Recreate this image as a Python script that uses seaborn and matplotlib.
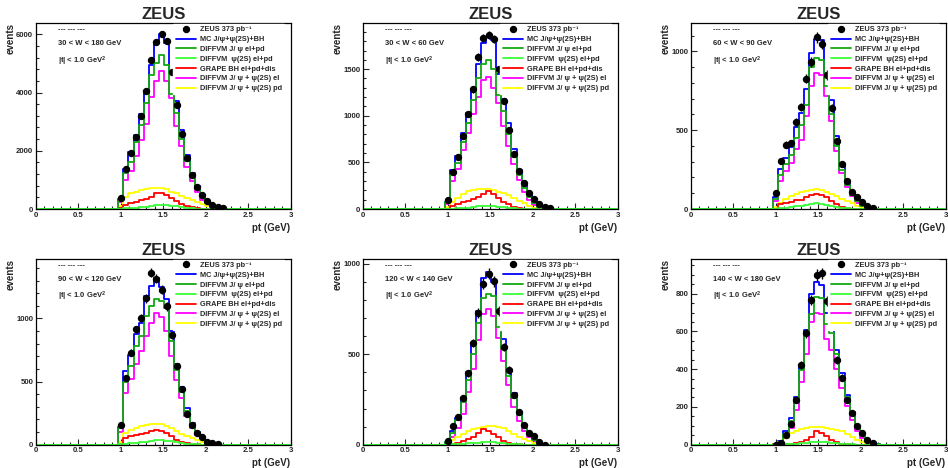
import numpy as np
import pandas as pd
import matplotlib
matplotlib.use("Agg")
import matplotlib.pyplot as plt
import seaborn as sns
from matplotlib.ticker import MultipleLocator, FuncFormatter
from matplotlib.lines import Line2D

sns.set_style("ticks")
plt.rcParams['font.family'] = ['Liberation Sans', 'DejaVu Sans']
plt.rcParams['font.weight'] = 'bold'
plt.rcParams['mathtext.fontset'] = 'custom'
plt.rcParams['mathtext.rm'] = 'Liberation Sans:bold'
plt.rcParams['mathtext.it'] = 'Liberation Sans:bold'
plt.rcParams['mathtext.bf'] = 'Liberation Sans:bold'

# ---------------- data ----------------
pt_centers = [1.00, 1.06, 1.12, 1.18, 1.24, 1.30, 1.36, 1.42, 1.48, 1.54, 1.60,
              1.66, 1.72, 1.78, 1.84, 1.90, 1.96, 2.02, 2.08, 2.14, 2.20]
bin_width = 0.06

w_labels = ["30 < W < 180 GeV", "30 < W < 60 GeV", "60 < W < 90 GeV",
            "90 < W < 120 GeV", "120 < W < 140 GeV", "140 < W < 180 GeV"]
y_max = [6390, 1995, 1180, 1473, 1028, 985]
y_major = [2000, 500, 500, 500, 500, 200]
y_minor = [400, 100, 100, 100, 100, 50]

legend_labels = ["ZEUS 373 pb\u207b\u00b9", "MC J/\u03c8+\u03c8(2S)+BH", "DIFFVM J/ \u03c8 el+pd",
                 "DIFFVM  \u03c8(2S) el+pd", "GRAPE BH el+pd+dis",
                 "DIFFVM J/ \u03c8 + \u03c8(2S) el", "DIFFVM J/ \u03c8 + \u03c8(2S) pd"]

nan = float("nan")

# 30 < W < 180
data_w30_180 = [390, 1360, 1910, 2480, 3210, 4060, 5130, 5740, 6010, 5760, 4700, 3590, 2590, 1740, 1170, 770, 490, 270, 150, 55, 45]
mc_w30_180 = [350, 1390, 1960, 2540, 3250, 4020, 4940, 5700, 6020, 5700, 4700, 3700, 2700, 1870, 1230, 780, 460, 240, 110, 40, 10]
jpsi_w30_180 = [300, 1250, 1600, 2300, 2880, 3650, 4600, 5000, 5300, 4950, 3950, 3300, 2400, 1650, 1100, 700, 420, 220, 100, 35, 10]
psi2s_w30_180 = [5, 20, 35, 50, 65, 85, 105, 125, 130, 125, 110, 90, 65, 45, 30, 15, 8, 3, 0, 0, 0]
bh_w30_180 = [30, 150, 200, 250, 300, 350, 420, 540, 550, 480, 380, 280, 180, 110, 60, 30, 15, 5, 0, 0, 0]
el_w30_180 = [230, 990, 1300, 1830, 2380, 2920, 3850, 4400, 4750, 4400, 3800, 2850, 2150, 1450, 950, 580, 320, 150, 60, 20, 5]
pd_w30_180 = [100, 420, 540, 590, 650, 690, 710, 730, 730, 690, 600, 540, 460, 390, 310, 240, 170, 100, 50, 20, 0]

# 30 < W < 60
data_w30_60 = [96, 400, 560, 782, 1014, 1282, 1632, 1836, 1864, 1821, 1500, 1157, 846, 586, 411, 279, 175, 104, 54, 18, 14]
mc_w30_60 = [80, 418, 570, 810, 1030, 1280, 1550, 1780, 1840, 1810, 1450, 1180, 920, 640, 420, 260, 150, 75, 30, 10, 3]
jpsi_w30_60 = [70, 360, 490, 720, 920, 1170, 1400, 1550, 1600, 1500, 1220, 1050, 800, 560, 360, 220, 130, 60, 25, 8, 2]
psi2s_w30_60 = [2, 5, 8, 12, 16, 22, 28, 32, 35, 32, 26, 20, 14, 9, 5, 3, 1, 0, 0, 0, 0]
bh_w30_60 = [5, 30, 50, 70, 90, 110, 130, 160, 190, 160, 120, 80, 50, 25, 12, 5, 2, 0, 0, 0, 0]
el_w30_60 = [50, 300, 430, 630, 810, 1020, 1200, 1380, 1420, 1300, 1140, 890, 680, 480, 310, 180, 100, 45, 18, 5, 0]
pd_w30_60 = [20, 80, 120, 160, 190, 205, 215, 210, 215, 200, 185, 170, 150, 120, 90, 60, 35, 15, 5, 0, 0]

# 60 < W < 90
data_w60_90 = [99, 306, 409, 420, 553, 644, 827, 933, 1089, 1049, 850, 641, 430, 283, 175, 110, 78, 44, 19, 4, nan]
mc_w60_90 = [75, 255, 325, 395, 520, 610, 760, 990, 1080, 1075, 860, 690, 460, 285, 178, 102, 55, 26, 10, 3, 0]
jpsi_w60_90 = [65, 215, 285, 345, 450, 530, 660, 900, 955, 945, 780, 600, 400, 250, 155, 88, 48, 22, 8, 2, 0]
psi2s_w60_90 = [1, 5, 8, 12, 16, 20, 26, 32, 36, 34, 28, 20, 13, 8, 4, 2, 1, 0, 0, 0, 0]
bh_w60_90 = [3, 30, 40, 45, 55, 60, 75, 90, 95, 90, 75, 50, 30, 15, 8, 3, 1, 0, 0, 0, 0]
el_w60_90 = [50, 180, 240, 290, 380, 440, 590, 780, 860, 850, 720, 560, 370, 230, 140, 80, 40, 18, 6, 1, 0]
pd_w60_90 = [10, 40, 65, 80, 95, 105, 115, 120, 125, 120, 110, 95, 80, 65, 50, 35, 22, 12, 5, 1, 0]

# 90 < W < 120
data_w90_120 = [156, 529, 728, 913, 1005, 1159, 1363, 1315, 1228, 1095, 865, 622, 439, 241, 156, 95, 61, 21, 16, 3, nan]
mc_w90_120 = [140, 580, 710, 880, 960, 1180, 1260, 1320, 1250, 1150, 900, 640, 460, 290, 175, 100, 55, 25, 10, 3, 0]
jpsi_w90_120 = [130, 500, 620, 780, 860, 1020, 1100, 1150, 1140, 1080, 820, 590, 420, 265, 160, 92, 50, 22, 9, 2, 0]
psi2s_w90_120 = [2, 8, 12, 16, 20, 25, 30, 34, 35, 32, 26, 20, 13, 8, 4, 2, 1, 0, 0, 0, 0]
bh_w90_120 = [5, 55, 65, 75, 85, 95, 105, 120, 110, 90, 65, 40, 25, 12, 6, 2, 1, 0, 0, 0, 0]
el_w90_120 = [100, 410, 520, 640, 740, 860, 960, 1040, 1010, 900, 700, 510, 370, 230, 135, 75, 40, 16, 6, 1, 0]
pd_w90_120 = [20, 90, 120, 135, 145, 155, 160, 165, 160, 150, 130, 110, 85, 65, 50, 35, 22, 12, 5, 1, 0]

# 120 < W < 140
data_w120_140 = [18, 101, 155, 256, 395, 561, 729, 889, 945, 902, 740, 539, 413, 277, 179, 111, 63, 46, 13, 0, nan]
mc_w120_140 = [15, 75, 150, 260, 400, 550, 740, 920, 955, 900, 740, 585, 420, 285, 180, 110, 60, 30, 12, 3, 0]
jpsi_w120_140 = [13, 65, 135, 235, 360, 500, 670, 810, 835, 820, 650, 530, 380, 260, 165, 100, 54, 26, 10, 2, 0]
psi2s_w120_140 = [0, 2, 4, 6, 8, 10, 12, 14, 15, 14, 12, 9, 6, 4, 2, 1, 0, 0, 0, 0, 0]
bh_w120_140 = [1, 5, 10, 18, 30, 45, 65, 85, 75, 60, 40, 22, 12, 6, 2, 1, 0, 0, 0, 0, 0]
el_w120_140 = [5, 40, 90, 170, 290, 420, 580, 720, 750, 710, 590, 460, 330, 210, 130, 75, 40, 18, 6, 1, 0]
pd_w120_140 = [5, 25, 45, 60, 75, 85, 95, 100, 105, 105, 100, 90, 75, 60, 45, 30, 20, 10, 4, 1, 0]

# 140 < W < 180
data_w140_180 = [0, 11, 53, 112, 235, 421, 589, 766, 899, 908, 760, 660, 448, 354, 239, 170, 97, 62, 27, 9, nan]
mc_w140_180 = [5, 20, 70, 141, 255, 420, 605, 800, 862, 848, 700, 610, 500, 380, 265, 175, 100, 55, 25, 8, 2]
jpsi_w140_180 = [4, 15, 55, 125, 240, 395, 585, 694, 782, 779, 640, 590, 480, 360, 250, 165, 92, 50, 22, 7, 2]
psi2s_w140_180 = [0, 1, 2, 3, 5, 7, 9, 12, 14, 14, 12, 10, 7, 5, 3, 2, 1, 0, 0, 0, 0]
bh_w140_180 = [0, 1, 3, 6, 10, 15, 25, 40, 70, 60, 45, 25, 12, 5, 2, 1, 0, 0, 0, 0, 0]
el_w140_180 = [2, 10, 35, 90, 185, 330, 478, 650, 697, 690, 560, 500, 400, 300, 205, 130, 70, 35, 15, 4, 1]
pd_w140_180 = [2, 15, 35, 60, 75, 85, 90, 95, 95, 92, 90, 85, 80, 70, 55, 40, 25, 12, 5, 1, 0]

panels = [
    (data_w30_180, mc_w30_180, jpsi_w30_180, psi2s_w30_180, bh_w30_180, el_w30_180, pd_w30_180),
    (data_w30_60, mc_w30_60, jpsi_w30_60, psi2s_w30_60, bh_w30_60, el_w30_60, pd_w30_60),
    (data_w60_90, mc_w60_90, jpsi_w60_90, psi2s_w60_90, bh_w60_90, el_w60_90, pd_w60_90),
    (data_w90_120, mc_w90_120, jpsi_w90_120, psi2s_w90_120, bh_w90_120, el_w90_120, pd_w90_120),
    (data_w120_140, mc_w120_140, jpsi_w120_140, psi2s_w120_140, bh_w120_140, el_w120_140, pd_w120_140),
    (data_w140_180, mc_w140_180, jpsi_w140_180, psi2s_w140_180, bh_w140_180, el_w140_180, pd_w140_180),
]

# ---------------- style ----------------
C_MC = "#0000ff"
C_JPSI = "#12a812"
C_PSI2S = "#38ff38"
C_BH = "#ff0000"
C_EL = "#ff00ff"
C_PD = "#ffff00"
LW = 1.3

centers = np.array(pt_centers)
# bin edges covering the full 0..3 range, aligned with the data bins
edges = np.arange(centers[0] - bin_width / 2 - 17 * bin_width, 3.0 + bin_width, bin_width)
full_centers = (edges[:-1] + edges[1:]) / 2


def hist_frame(vals):
    w = np.zeros(len(full_centers))
    for c, v in zip(centers, vals):
        i = int(np.argmin(np.abs(full_centers - c)))
        w[i] = v
    return pd.DataFrame({"pt": full_centers, "w": w})


fig = plt.figure(figsize=(9.48, 4.68), dpi=100)
fig.patch.set_facecolor("white")

col_left = [36 / 948, 363 / 948, 691 / 948]
ax_w = 254.5 / 948
row_bottom = [1 - 209 / 468, 1 - 444.7 / 468]
ax_h = 186 / 468


def fmt_x(v, pos):
    if abs(v - round(v)) < 1e-6:
        return "%d" % round(v)
    return "%g" % v


for k, (data, mc, jpsi, psi2s, bh, el, pd_) in enumerate(panels):
    r, c = divmod(k, 3)
    ax = fig.add_axes([col_left[c], row_bottom[r], ax_w, ax_h])
    ax.set_facecolor("white")
    for vals, col in [(mc, C_MC), (el, C_EL), (pd_, C_PD), (bh, C_BH), (jpsi, C_JPSI), (psi2s, C_PSI2S)]:
        sns.histplot(data=hist_frame(vals), x="pt", weights="w", bins=list(edges), element="step",
                     fill=False, color=col, linewidth=LW, ax=ax)
    d = np.array(data, dtype=float)
    ax.errorbar(centers, d, yerr=np.sqrt(np.nan_to_num(d)), fmt="o", color="black",
                ms=4.3, elinewidth=1.0, capsize=0, zorder=4)

    ax.set_xlim(0, 3)
    ax.set_ylim(0, y_max[k])
    ax.set_xlabel("")
    ax.set_ylabel("")
    ax.xaxis.set_major_locator(MultipleLocator(0.5))
    ax.xaxis.set_minor_locator(MultipleLocator(0.1))
    ax.xaxis.set_major_formatter(FuncFormatter(fmt_x))
    ax.yaxis.set_major_locator(MultipleLocator(y_major[k]))
    ax.yaxis.set_minor_locator(MultipleLocator(y_minor[k]))
    ax.tick_params(which="major", direction="in", length=4.3, width=0.8, labelsize=5.6, pad=2)
    ax.tick_params(which="minor", direction="in", length=2.2, width=0.8)
    ax.tick_params(top=False, right=False, which="both")
    for lab in ax.get_xticklabels() + ax.get_yticklabels():
        lab.set_fontweight("bold")
    for s in ax.spines.values():
        s.set_visible(True)
        s.set_color("black")
        s.set_linewidth(0.9)

    ax.set_title("ZEUS", fontsize=12, fontweight="bold", pad=3)
    ax.text(-0.1, 1.0, "events", rotation=90, transform=ax.transAxes, ha="center",
            va="top", fontsize=7, fontweight="bold")
    ax.text(1.0, -0.10, "pt (GeV)", transform=ax.transAxes, ha="right", va="center",
            fontsize=7, fontweight="bold")
    ax.text(0.087, 0.965, "--- --- ---", transform=ax.transAxes, ha="left", va="center",
            fontsize=5.5, fontweight="bold")
    ax.text(0.087, 0.89, w_labels[k], transform=ax.transAxes, ha="left", va="center",
            fontsize=5.5, fontweight="bold")
    ax.text(0.087, 0.796, "|t| < 1.0 GeV$^{2}$", transform=ax.transAxes, ha="left",
            va="center", fontsize=5.5, fontweight="bold")

    handles = [Line2D([], [], marker="o", color="black", linestyle="none", ms=4.3),
               Line2D([], [], color=C_MC, lw=LW), Line2D([], [], color=C_JPSI, lw=LW),
               Line2D([], [], color=C_PSI2S, lw=LW), Line2D([], [], color=C_BH, lw=LW),
               Line2D([], [], color=C_EL, lw=LW), Line2D([], [], color=C_PD, lw=LW)]
    leg = ax.legend(handles, legend_labels, loc="upper left", bbox_to_anchor=(0.54, 0.995),
                    frameon=True, framealpha=1, facecolor="white", edgecolor="white",
                    fancybox=False, prop={"size": 5.3, "weight": "bold"}, handlelength=2.7,
                    handletextpad=0.6, labelspacing=0.36, borderpad=0.3, borderaxespad=0)
    leg.set_zorder(6)

fig.savefig("out.png", dpi=100, facecolor="white")
